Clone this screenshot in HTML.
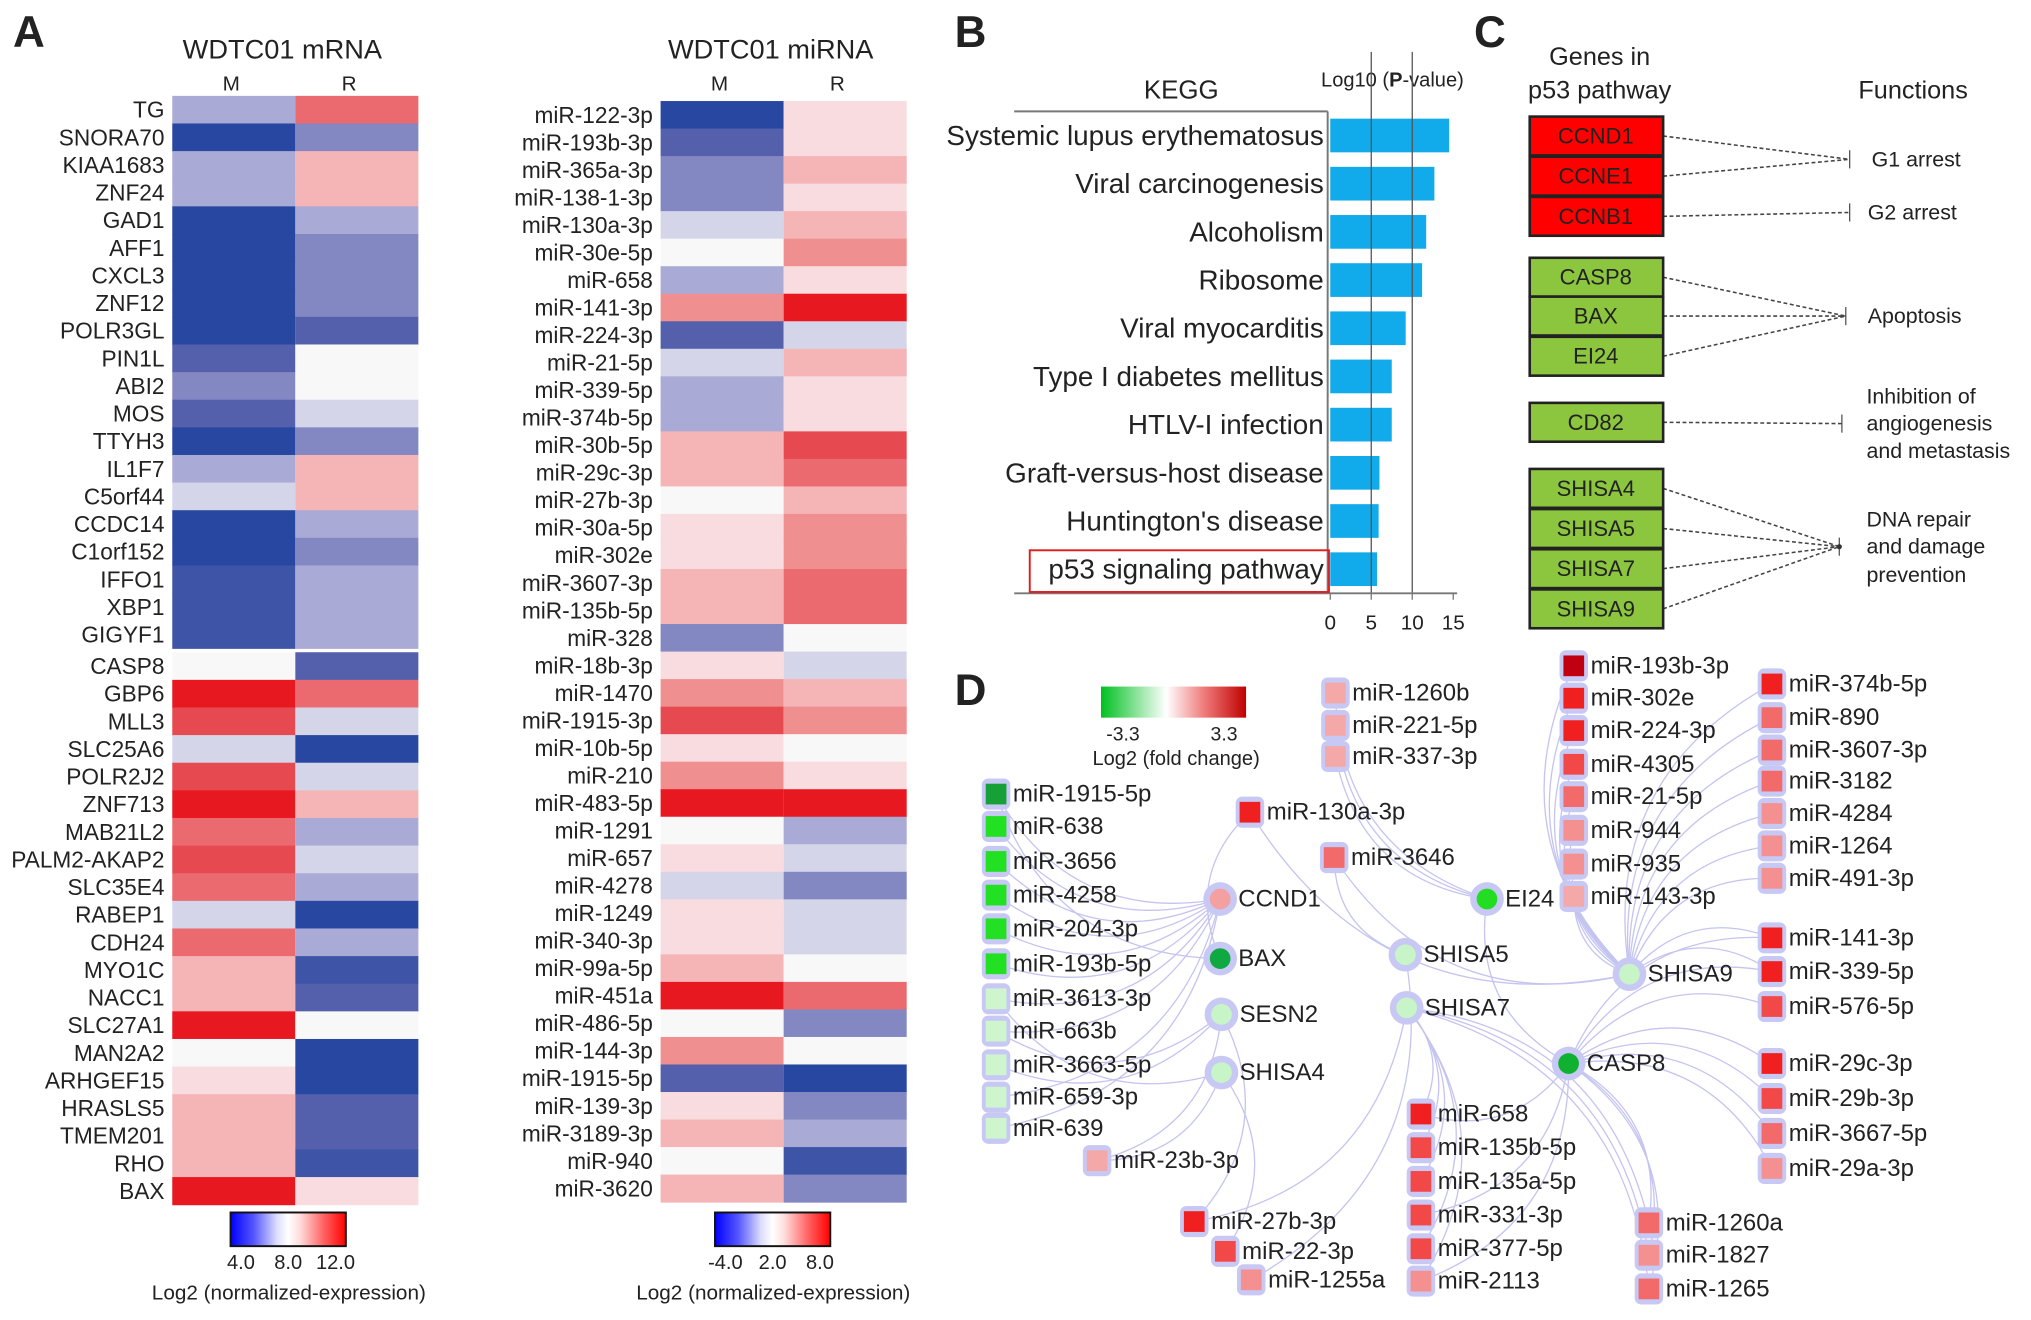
<!DOCTYPE html>
<html><head><meta charset="utf-8">
<style>
html,body{margin:0;padding:0;background:#fff;}
svg{display:block;}
text{font-family:"Liberation Sans",sans-serif;fill:#222;}
</style></head>
<body>
<svg id="fig" width="2031" height="1320" viewBox="0 0 1568 1019" preserveAspectRatio="none" xmlns="http://www.w3.org/2000/svg">
<defs>
<linearGradient id="gBR" x1="0" x2="1" y1="0" y2="0">
<stop offset="0" stop-color="#0000ff"/><stop offset="0.2" stop-color="#5555ff"/><stop offset="0.4" stop-color="#ddddff"/><stop offset="0.5" stop-color="#ffffff"/><stop offset="0.6" stop-color="#ffdddd"/><stop offset="0.8" stop-color="#ff6666"/><stop offset="1" stop-color="#ff0000"/>
</linearGradient>
<linearGradient id="gGR" x1="0" x2="1" y1="0" y2="0">
<stop offset="0" stop-color="#00c020"/><stop offset="0.45" stop-color="#ffffff"/><stop offset="0.7" stop-color="#f08080"/><stop offset="1" stop-color="#c00000"/>
</linearGradient>
</defs>
<g id="layer"></g>
</svg>
<script>
// ---------- Data ----------
const mrnaGenes = ["TG","SNORA70","KIAA1683","ZNF24","GAD1","AFF1","CXCL3","ZNF12","POLR3GL","PIN1L","ABI2","MOS","TTYH3","IL1F7","C5orf44","CCDC14","C1orf152","IFFO1","XBP1","GIGYF1","CASP8","GBP6","MLL3","SLC25A6","POLR2J2","ZNF713","MAB21L2","PALM2-AKAP2","SLC35E4","RABEP1","CDH24","MYO1C","NACC1","SLC27A1","MAN2A2","ARHGEF15","HRASLS5","TMEM201","RHO","BAX"];
const mrnaM = [-2,-4,-2,-2,-4,-4,-4,-4,-4,-3,-2.5,-3,-4,-2,-1,-4,-4,-3.5,-3.5,-3.5,0,4,3.5,-1,3.5,4,3,3.5,3,-1,3,2,2,4,0,1,2,2,2,4];
const mrnaR = [3,-2.5,2,2,-2,-2.5,-2.5,-2.5,-3,0,0,-1,-2.5,2,2,-2,-2.5,-2,-2,-2,-3,3,-1,-4,-1,2,-2,-1,-2,-4,-2,-3.5,-3,0,-4,-4,-3,-3,-3.5,1];
const mirnaNames = ["miR-122-3p","miR-193b-3p","miR-365a-3p","miR-138-1-3p","miR-130a-3p","miR-30e-5p","miR-658","miR-141-3p","miR-224-3p","miR-21-5p","miR-339-5p","miR-374b-5p","miR-30b-5p","miR-29c-3p","miR-27b-3p","miR-30a-5p","miR-302e","miR-3607-3p","miR-135b-5p","miR-328","miR-18b-3p","miR-1470","miR-1915-3p","miR-10b-5p","miR-210","miR-483-5p","miR-1291","miR-657","miR-4278","miR-1249","miR-340-3p","miR-99a-5p","miR-451a","miR-486-5p","miR-144-3p","miR-1915-5p","miR-139-3p","miR-3189-3p","miR-940","miR-3620"];
const mirnaM = [-4,-3,-2.5,-2.5,-1,0,-2,2.5,-3,-1,-2,-2,2,2,0,1,1,2,2,-2.5,1,2.5,3.5,1,2.5,4,0,1,-1,1,1,2,4,0,2.5,-3,1,2,0,2];
const mirnaR = [1,1,2,1,2,2.5,1,4,-1,2,1,1,3.5,3,2,2.5,2.5,3,3,0,-1,2,2.5,0,1,4,-2,-1,-2.5,-1,-1,0,3,-2.5,0,-4,-2.5,-2,-3.5,-2.5];
const keggTerms = ["Systemic lupus erythematosus","Viral carcinogenesis","Alcoholism","Ribosome","Viral myocarditis","Type I diabetes mellitus","HTLV-I infection","Graft-versus-host disease","Huntington's disease","p53 signaling pathway"];
const keggValues = [14.5,12.7,11.7,11.2,9.2,7.5,7.5,6.0,5.9,5.7];
const keggTicks = [0,5,10,15];

const NS="http://www.w3.org/2000/svg";
const L=document.getElementById('layer');
function mk(tag,attrs,parent){const e=document.createElementNS(NS,tag);for(const k in attrs)e.setAttribute(k,attrs[k]);(parent||L).appendChild(e);return e;}
function txt(x,y,s,size,anchor,parent,extra){const e=mk('text',Object.assign({x:x,y:y,'font-size':size,'text-anchor':anchor||'start','dominant-baseline':'central'},extra||{}),parent);e.textContent=s;return e;}

const stopsV=[-4,-3,-2.5,-2,-1,0,1,2,2.5,3,3.5,4];
const stopsC=["#2747a0","#5560ad","#8387c2","#aaaad6","#d5d5ea","#f8f8f8","#f9dcdf","#f5b4b6","#ef8f8f","#ea6a70","#e64a50","#e81820"];
function hx(c){return [1,3,5].map(i=>parseInt(c.substr(i,2),16));}
function heatColor(v){for(let i=0;i<stopsV.length-1;i++){if(v<=stopsV[i+1]){const t=(v-stopsV[i])/(stopsV[i+1]-stopsV[i]);const a=hx(stopsC[i]),b=hx(stopsC[i+1]);return 'rgb('+a.map((x,j)=>Math.round(x+(b[j]-x)*t)).join(',')+')';}}return stopsC[stopsC.length-1];}

for(const [l,x,y] of [["A",10,25],["B",737,25],["C",1138,25],["D",737,533]]){
  const t=txt(x,y,l,34,'start',null,{'font-weight':'bold',fill:'#000'});
  
  
}

function heatmap(name,title,names,M,R,x0,y0,y1,cx,ticks,gap){
  const g=mk('g',{});
  
  
  const w=95, n=names.length, rh=(y1-y0)/n;
  const t=txt(x0+w-10,38,title,21,'middle',g);  
  txt(x0+w/2-2,65,'M',16,'middle',g); txt(x0+w*1.5-6,65,'R',16,'middle',g);
  names.forEach((nm,i)=>{
    const y=y0+i*rh+(gap&&i>=20?3:0);
    const a=mk('rect',{x:x0,y:y,width:w,height:rh+0.4,fill:heatColor(M[i])},g);
    
    
    const b=mk('rect',{x:x0+w,y:y,width:w,height:rh+0.4,fill:heatColor(R[i])},g);
    
    
    const lb=txt(x0-6,y+rh/2,nm,17.5,'end',g);
    
    
  });
  const cb=mk('rect',{x:cx,y:936,width:89,height:26,fill:'url(#gBR)',stroke:'#111','stroke-width':1.5},g);
  
  
  ticks.forEach((tk,i)=>txt(cx+8+i*36.5,975,tk,15.5,'middle',g));
  const ct=txt(cx+45,998,'Log2 (normalized-expression)',16,'middle',g);
  
  
}
heatmap('mrna-heatmap','WDTC01 mRNA',mrnaGenes,mrnaM,mrnaR,133,74,927,178,['4.0','8.0','12.0'],true);
heatmap('mirna-heatmap','WDTC01 miRNA',mirnaNames,mirnaM,mirnaR,510,78,928,552,['-4.0','2.0','8.0'],false);

(function(){
  const g=mk('g',{});
  
  
  const x0=1027, pxPer=6.33, yTop=86, yBot=458;
  const xs=v=>x0+v*pxPer;
  const rowH=(yBot-yTop)/keggTerms.length;
  txt(912,70,'KEGG',20,'middle',g);
  const lt2=mk('text',{x:1075,y:62,'font-size':15.5,'text-anchor':'middle','dominant-baseline':'central'},g);
  lt2.innerHTML='Log10 (<tspan font-weight="bold">P</tspan>-value)';
  
  
  keggValues.forEach((v,i)=>{
    const cy=yTop+rowH*(i+0.5);
    const b=mk('rect',{x:x0,y:cy-13,width:xs(v)-x0,height:26,fill:'#11aaea'},g);
    
    
    const t=txt(1022,cy,keggTerms[i],21.5,'end',g);
    
    
  });
  [5,10].forEach(v=>mk('line',{x1:xs(v),x2:xs(v),y1:40,y2:yBot,stroke:'#555','stroke-width':1},g));
  mk('line',{x1:783,x2:1025,y1:yTop,y2:yTop,stroke:'#777','stroke-width':1.5},g);
  mk('line',{x1:1025,x2:1025,y1:yTop,y2:yBot,stroke:'#777','stroke-width':1.5},g);
  mk('line',{x1:783,x2:1125,y1:yBot,y2:yBot,stroke:'#777','stroke-width':1.5},g);
  keggTicks.forEach(tk=>{
    mk('line',{x1:xs(tk),x2:xs(tk),y1:yBot,y2:yBot+5,stroke:'#777'},g);
    const t=txt(xs(tk),481,String(tk),16,'middle',g);
    
    
  });
  const hb=mk('rect',{x:795,y:yTop+rowH*9+4,width:231,height:rowH-5,fill:'none',stroke:'#e02020','stroke-width':1.5},g);
  
  
})();

(function(){
  const g=mk('g',{});
  
  
  txt(1235,44,'Genes in',19.5,'middle',g);
  txt(1235,70,'p53 pathway',19.5,'middle',g);
  txt(1477,70,'Functions',19.5,'middle',g);
  const boxes=[["CCND1",90,'r',[1428,123]],["CCNE1",121,'r',[1428,123]],["CCNB1",152,'r',[1428,164]],["CASP8",199,'g',[1425,244]],["BAX",229,'g',[1425,244]],["EI24",260,'g',[1425,244]],["CD82",311,'g',[1422,327]],["SHISA4",362,'g',[1420,422]],["SHISA5",393,'g',[1420,422]],["SHISA7",424,'g',[1420,422]],["SHISA9",455,'g',[1420,422]]];
  boxes.forEach(([nm,y,c,tg])=>{
    mk('line',{x1:1284,y1:y+15,x2:tg[0],y2:tg[1],stroke:'#444','stroke-width':1.2,'stroke-dasharray':'3,2'},g);
    const r=mk('rect',{x:1181,y:y,width:103,height:30,fill:c=='r'?'#ff0000':'#8cc63e',stroke:'#222','stroke-width':2},g);
    
    
    txt(1232,y+15,nm,17,'middle',g,{fill:c=='r'?'#a00':'#222'});
  });
  [[1428,123],[1428,164],[1425,244],[1422,327],[1420,422]].forEach(([x,y])=>mk('line',{x1:x,x2:x,y1:y-7,y2:y+7,stroke:'#555'},g));
  mk('circle',{cx:1420,cy:422,r:2,fill:'#333'},g);
  const F=[["G1 arrest",1445,123],["G2 arrest",1442,164],["Apoptosis",1442,244],["Inhibition of",1441,306],["angiogenesis",1441,327],["and metastasis",1441,348],["DNA repair",1441,401],["and damage",1441,422],["prevention",1441,444]];
  F.forEach(([s,x,y])=>{const t=txt(x,y,s,16.5,'start',g);});
})();

(function(){
  const g=mk('g',{});
  
  
  const eg=mk('g',{},g);
  const lg=mk('rect',{x:850,y:530,width:112,height:24,fill:'url(#gGR)'},g);
  
  
  txt(867,567,'-3.3',15,'middle',g); txt(945,567,'3.3',15,'middle',g);
  txt(908,586,'Log2 (fold change)',15.5,'middle',g);
  const genes={CCND1:[942,694,'#f4a0a0'],BAX:[942,740,'#10a840'],SESN2:[943,783,'#c8f5c8'],SHISA4:[943,828,'#c8f5c8'],EI24:[1148,694,'#22dd22'],SHISA5:[1085,737,'#c8f5c8'],SHISA7:[1086,778,'#c8f5c8'],SHISA9:[1258,752,'#c8f5c8'],CASP8:[1211,821,'#10b030']};
  const DG='#18a038',G='#22e022',LG='#cff5cf',DR='#c00010',R='#f02020',R2='#f24848',S='#f26a6a',P='#f59090',LP='#f5a8a8';
  const mirs=[
    ["miR-1915-5p",769,613,DG,"CCND1"],["miR-638",769,638,G,"CCND1"],["miR-3656",769,665,G,"CCND1"],["miR-4258",769,691,G,"CCND1"],["miR-204-3p",769,717,G,"CCND1"],["miR-193b-5p",769,744,G,"CCND1"],["miR-3613-3p",769,771,LG,"CCND1"],["miR-663b",769,796,LG,"CCND1"],["miR-3663-5p",769,822,LG,"SESN2"],["miR-659-3p",769,847,LG,"CCND1"],["miR-639",769,871,LG,"CCND1"],
    ["miR-23b-3p",847,896,LP,"SHISA4"],["miR-130a-3p",965,627,R,"BAX"],["miR-3646",1030,662,S,"SHISA5"],
    ["miR-1260b",1031,535,LP,"EI24"],["miR-221-5p",1031,560,LP,"EI24"],["miR-337-3p",1031,584,LP,"EI24"],
    ["miR-193b-3p",1215,514,DR,"SHISA9"],["miR-302e",1215,539,R,"SHISA9"],["miR-224-3p",1215,564,R,"SHISA9"],["miR-4305",1215,590,R2,"SHISA9"],["miR-21-5p",1215,615,S,"SHISA9"],["miR-944",1215,641,P,"SHISA9"],["miR-935",1215,667,P,"SHISA9"],["miR-143-3p",1215,692,LP,"SHISA9"],
    ["miR-374b-5p",1368,528,R,"SHISA9"],["miR-890",1368,554,S,"SHISA9"],["miR-3607-3p",1368,579,S,"SHISA9"],["miR-3182",1368,603,S,"SHISA9"],["miR-4284",1368,628,P,"SHISA9"],["miR-1264",1368,653,P,"SHISA9"],["miR-491-3p",1368,678,P,"SHISA9"],
    ["miR-141-3p",1368,724,R,"SHISA9"],["miR-339-5p",1368,750,R,"SHISA9"],["miR-576-5p",1368,777,R2,"CASP8"],
    ["miR-29c-3p",1368,821,R,"CASP8"],["miR-29b-3p",1368,848,R2,"CASP8"],["miR-3667-5p",1368,875,S,"CASP8"],["miR-29a-3p",1368,902,P,"CASP8"],
    ["miR-658",1097,860,R,"SHISA7"],["miR-135b-5p",1097,886,R2,"SHISA7"],["miR-135a-5p",1097,912,R2,"SHISA7"],["miR-331-3p",1097,938,R2,"CASP8"],["miR-377-5p",1097,964,R2,"SHISA7"],["miR-2113",1097,989,P,"SHISA7"],
    ["miR-27b-3p",922,943,R,"SESN2"],["miR-22-3p",946,966,R2,"SHISA4"],["miR-1255a",966,988,P,"SHISA5"],
    ["miR-1260a",1273,944,S,"CASP8"],["miR-1827",1273,969,P,"CASP8"],["miR-1265",1273,995,S,"CASP8"]
  ];
  const extra=[["miR-141-3p","CASP8"],["miR-339-5p","CASP8"],["miR-1915-5p","BAX"],["miR-663b","SESN2"],["miR-27b-3p","SHISA7"],["miR-1260a","SHISA7"],["miR-1265","SHISA7"],["miR-2113","CASP8"],["miR-658","CASP8"],["miR-3646","SHISA9"],["miR-130a-3p","SHISA9"],["miR-3613-3p","SHISA4"],["miR-23b-3p","SESN2"],["EI24","CASP8"],["miR-1827","SHISA7"]];
  const pos={}; mirs.forEach(m=>pos[m[0]]=[m[1],m[2]]); for(const k in genes)pos[k]=[genes[k][0],genes[k][1]];
  function edge(a,b){const [x1,y1]=pos[a],[x2,y2]=pos[b];const mx=(x1+x2)/2,my=(y1+y2)/2;const dx=x2-x1,dy=y2-y1;const cx=mx-dy*0.35,cy=my+dx*0.35;
    mk('path',{d:`M${x1},${y1} Q${cx},${cy} ${x2},${y2}`,fill:'none',stroke:'#c4c4f0','stroke-width':1},eg);}
  mirs.forEach(m=>edge(m[0],m[4])); extra.forEach(e=>edge(e[0],e[1]));
  for(const k in genes){const [x,y,c]=genes[k];
    mk('circle',{cx:x,cy:y,r:13,fill:'#c8c8f4'},g);
    const n=mk('circle',{cx:x,cy:y,r:8,fill:c},g);
    
    
    txt(x+14,y,k,18.5,'start',g);
  }
  mirs.forEach(([nm,x,y,c])=>{
    mk('rect',{x:x-11,y:y-12,width:22,height:24,rx:5,fill:'#c8c8f4'},g);
    const r=mk('rect',{x:x-8,y:y-8,width:16,height:16,fill:c},g);
    
    
    txt(x+13,y,nm,18.5,'start',g);
  });
})();
</script>
</body></html>
